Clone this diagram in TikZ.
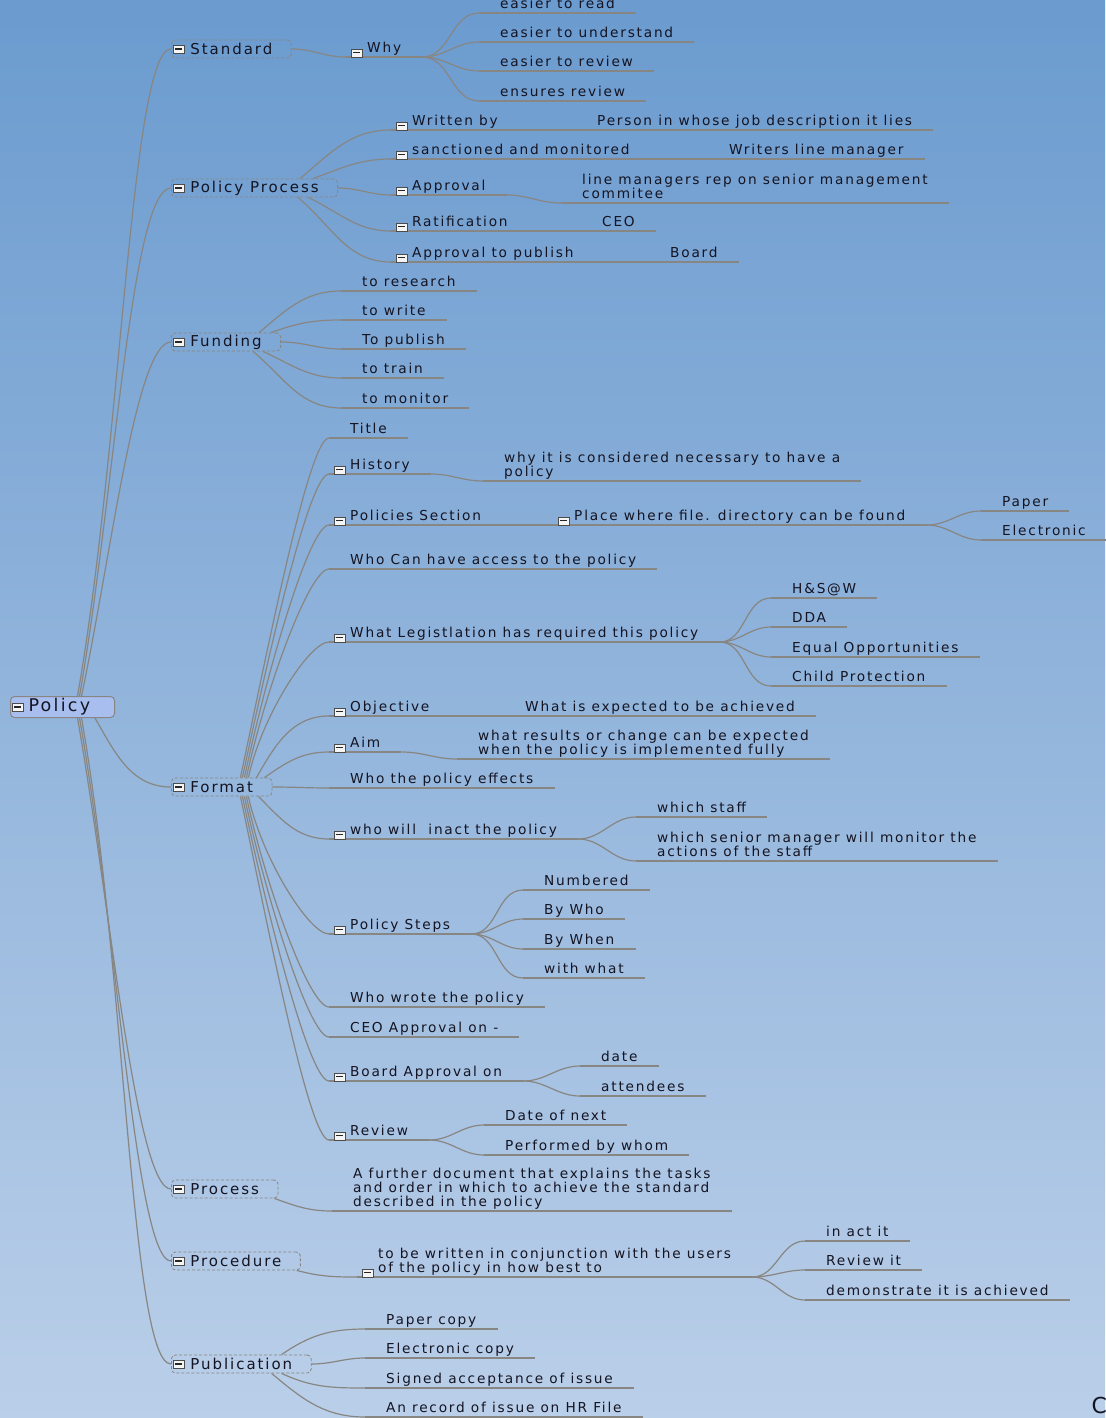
\documentclass[tikz,border=0pt]{standalone}
\usepackage{fontspec}
\setmainfont{DejaVu Sans}[LetterSpace=13]
\usetikzlibrary{positioning}

\definecolor{bgtop}{RGB}{107,155,207}
\definecolor{bgbot}{RGB}{186,207,233}
\definecolor{linec}{RGB}{136,134,130}
\definecolor{inkc}{RGB}{20,20,34}
\definecolor{rootfill}{RGB}{168,190,238}

\tikzset{
	branch/.style={draw=linec, line width=1.2pt},
	toggle/.style={draw=black!70, fill=gray!8, minimum width=11pt, minimum height=8pt, inner sep=0pt,
		path picture={\draw[black!85, line width=1.3pt] ([xshift=2pt]path picture bounding box.west) -- ([xshift=-2pt]path picture bounding box.east);}},
	leaf/.style={anchor=south west, inner xsep=21pt, inner ysep=4pt, text depth=0pt, align=left, text=inkc,
		font=\fontsize{13.7}{14}\selectfont,
		append after command={(\tikzlastnode.south west) edge[branch] (\tikzlastnode.south east)}},
	sub/.style={append after command={node[toggle, anchor=south west] at ([xshift=5pt]\tikzlastnode.south west) {}}},
	topic/.style={anchor=west, draw=linec, line width=0.8pt, dash pattern=on 3pt off 2pt, rounded corners=4pt,
		minimum height=18pt, inner ysep=0pt, inner xsep=19pt, text=inkc, font=\fontsize{15}{16}\selectfont,
		append after command={node[toggle, anchor=west] at ([xshift=2pt]\tikzlastnode.west) {}}},
	rootbox/.style={anchor=west, draw=linec, line width=1pt, fill=rootfill, rounded corners=4pt,
		minimum height=21pt, inner ysep=0pt, inner xsep=18pt, text width=68pt, align=left, text=inkc,
		font=\fontsize{17.5}{18}\selectfont,
		append after command={node[toggle, anchor=west] at ([xshift=2pt]\tikzlastnode.west) {}}},
	goup/.style={out=78, in=180, in distance=20pt},
	godown/.style={out=-78, in=180, in distance=20pt},
}

\begin{document}
\begin{tikzpicture}[x=1pt, y=-1pt]
	\useasboundingbox (0,0) rectangle (1105,1418);
	\shade[top color=bgtop, bottom color=bgbot] (0,0) rectangle (1105,1418);

	% root and main topics
	\node[rootbox] (policy) at (10,707) {Policy};
	\node[topic] (std) at (171,49) {Standard};
	\node[topic] (pp) at (171,188) {Policy Process};
	\node[topic] (fund) at (171,342) {Funding};
	\node[topic] (fmt) at (171,787) {Format};
	\node[topic] (prc) at (171,1189) {Process};
	\node[topic] (proc) at (171,1261) {Procedure};
	\node[topic] (pub) at (171,1364) {Publication};

	% Standard
	\node[leaf,sub] (why) at (346,57) {Why};
	\node[leaf] (read) at (479,13) {easier to read};
	\node[leaf] (underst) at (479,42) {easier to understand};
	\node[leaf] (review) at (479,71) {easier to review};
	\node[leaf] (ensures) at (479,101) {ensures review};

	% Policy Process
	\node[leaf,sub] (wrby) at (391,130) {Written by};
	\node[leaf] (person) at (576,130) {Person in whose job description it lies};
	\node[leaf,sub] (sanct) at (391,159) {sanctioned and monitored};
	\node[leaf] (wlm) at (708,159) {Writers line manager};
	\node[leaf,sub] (appr) at (391,195) {Approval};
	\node[leaf] (lmrep) at (561,203) {line managers rep on senior management\\commitee};
	\node[leaf,sub] (ratif) at (391,231) {Ratification};
	\node[leaf] (ceo) at (581,231) {CEO};
	\node[leaf,sub] (apub) at (391,262) {Approval to publish};
	\node[leaf] (board) at (649,262) {Board};

	% Funding
	\node[leaf] (research) at (341,291) {to research};
	\node[leaf] (write) at (341,320) {to write};
	\node[leaf] (publish) at (341,349) {To publish};
	\node[leaf] (train) at (341,378) {to train};
	\node[leaf] (monitor) at (341,408) {to monitor};

	% Format
	\node[leaf] (title) at (329,438) {Title};
	\node[leaf,sub] (hist) at (329,474) {History};
	\node[leaf] (whynec) at (483,481) {why it is considered necessary to have a\\policy};
	\node[leaf,sub] (polsec) at (329,525) {Policies Section};
	\node[leaf,sub] (place) at (553,525) {Place where file. directory can be found};
	\node[leaf] (paper) at (981,511) {Paper};
	\node[leaf] (electr) at (981,540) {Electronic};
	\node[leaf] (access) at (329,569) {Who Can have access to the policy};
	\node[leaf,sub] (legis) at (329,642) {What Legistlation has required this policy};
	\node[leaf] (hsw) at (771,598) {H\&S@W};
	\node[leaf] (dda) at (771,627) {DDA};
	\node[leaf] (equal) at (771,657) {Equal Opportunities};
	\node[leaf] (child) at (771,686) {Child Protection};
	\node[leaf,sub] (obj) at (329,716) {Objective};
	\node[leaf] (expect) at (504,716) {What is expected to be achieved};
	\node[leaf,sub] (aim) at (329,752) {Aim};
	\node[leaf] (result) at (457,759) {what results or change can be expected\\when the policy is implemented fully};
	\node[leaf] (effects) at (329,788) {Who the policy effects};
	\node[leaf,sub] (inact) at (329,839) {who will\ \ inact the policy};
	\node[leaf] (staff) at (636,817) {which staff};
	\node[leaf] (senior) at (636,861) {which senior manager will monitor the\\actions of the staff};
	\node[leaf,sub] (steps) at (329,934) {Policy Steps};
	\node[leaf] (numb) at (523,890) {Numbered};
	\node[leaf] (bywho) at (523,919) {By Who};
	\node[leaf] (bywhen) at (523,949) {By When};
	\node[leaf] (withwhat) at (523,978) {with what};
	\node[leaf] (wrote) at (329,1007) {Who wrote the policy};
	\node[leaf] (ceoappr) at (329,1037) {CEO Approval on -};
	\node[leaf,sub] (brdappr) at (329,1081) {Board Approval on};
	\node[leaf] (date) at (580,1066) {date};
	\node[leaf] (attend) at (580,1096) {attendees};
	\node[leaf,sub] (rev) at (329,1140) {Review};
	\node[leaf] (nextdate) at (484,1125) {Date of next};
	\node[leaf] (perf) at (484,1155) {Performed by whom};

	% Process, Procedure, Publication
	\node[leaf] (further) at (332,1211) {A further document that explains the tasks\\and order in which to achieve the standard\\described in the policy};
	\node[leaf,sub] (conj) at (357,1277) {to be written in conjunction with the users\\of the policy in how best to};
	\node[leaf] (actit) at (805,1241) {in act it};
	\node[leaf] (reviewit) at (805,1270) {Review it};
	\node[leaf] (demo) at (805,1300) {demonstrate it is achieved};
	\node[leaf] (pcopy) at (365,1329) {Paper copy};
	\node[leaf] (ecopy) at (365,1358) {Electronic copy};
	\node[leaf] (signed) at (365,1388) {Signed acceptance of issue};
	\node[leaf] (record) at (365,1417) {An record of issue on HR File};

	\node[anchor=west, text=inkc, font=\fontsize{22}{24}\selectfont] (cut) at (1088,1405) {C};

	% root to topics
	\draw[branch] ([xshift=15pt]policy.north) to[out=80,in=180,in distance=40pt] (std.west);
	\draw[branch] ([xshift=17pt]policy.north) to[out=80,in=180,in distance=40pt] (pp.west);
	\draw[branch] ([xshift=19pt]policy.north) to[out=78,in=180,in distance=35pt] (fund.west);
	\draw[branch] ([xshift=-20pt]policy.south east) to[out=-60,in=180] (fmt.west);
	\draw[branch] ([xshift=15pt]policy.south) to[out=-80,in=180,in distance=35pt] (prc.west);
	\draw[branch] ([xshift=17pt]policy.south) to[out=-80,in=180,in distance=35pt] (proc.west);
	\draw[branch] ([xshift=19pt]policy.south) to[out=-80,in=180,in distance=40pt] (pub.west);

	% Standard
	\draw[branch] (std.east) to[out=0,in=180] (why.south west);
	\draw[branch] (why.south east) to[out=0,in=180] (read.south west);
	\draw[branch] (why.south east) to[out=0,in=180] (underst.south west);
	\draw[branch] (why.south east) to[out=0,in=180] (review.south west);
	\draw[branch] (why.south east) to[out=0,in=180] (ensures.south west);

	% Policy Process
	\draw[branch] ([xshift=-38pt]pp.north east) to[out=40,in=180] (wrby.south west);
	\draw[branch] ([xshift=-25pt]pp.north east) to[out=20,in=180] (sanct.south west);
	\draw[branch] (pp.east) to[out=0,in=180] (appr.south west);
	\draw[branch] ([xshift=-30pt]pp.south east) to[out=-25,in=180] (ratif.south west);
	\draw[branch] ([xshift=-40pt]pp.south east) to[out=-40,in=180] (apub.south west);
	\draw[branch] (wrby.south east) -- (person.south west);
	\draw[branch] (sanct.south east) -- (wlm.south west);
	\draw[branch] (appr.south east) to[out=0,in=180] (lmrep.south west);
	\draw[branch] (ratif.south east) -- (ceo.south west);
	\draw[branch] (apub.south east) -- (board.south west);

	% Funding
	\draw[branch] ([xshift=-22pt]fund.north east) to[out=40,in=180] (research.south west);
	\draw[branch] ([xshift=-10pt]fund.north east) to[out=20,in=180] (write.south west);
	\draw[branch] (fund.east) to[out=0,in=180] (publish.south west);
	\draw[branch] ([xshift=-18pt]fund.south east) to[out=-25,in=180] (train.south west);
	\draw[branch] ([xshift=-28pt]fund.south east) to[out=-40,in=180] (monitor.south west);

	% Format
	\draw[branch] ([xshift=-32pt]fmt.north east) to[goup] (title.south west);
	\draw[branch] ([xshift=-30pt]fmt.north east) to[goup] (hist.south west);
	\draw[branch] ([xshift=-28pt]fmt.north east) to[goup] (polsec.south west);
	\draw[branch] ([xshift=-26pt]fmt.north east) to[goup] (access.south west);
	\draw[branch] ([xshift=-24pt]fmt.north east) to[goup] (legis.south west);
	\draw[branch] ([xshift=-16pt]fmt.north east) to[out=60,in=180] (obj.south west);
	\draw[branch] ([xshift=-8pt]fmt.north east) to[out=35,in=180] (aim.south west);
	\draw[branch] (fmt.east) to[out=0,in=180] (effects.south west);
	\draw[branch] ([xshift=-14pt]fmt.south east) to[out=-45,in=180] (inact.south west);
	\draw[branch] ([xshift=-24pt]fmt.south east) to[godown] (steps.south west);
	\draw[branch] ([xshift=-26pt]fmt.south east) to[godown] (wrote.south west);
	\draw[branch] ([xshift=-28pt]fmt.south east) to[godown] (ceoappr.south west);
	\draw[branch] ([xshift=-30pt]fmt.south east) to[godown] (brdappr.south west);
	\draw[branch] ([xshift=-32pt]fmt.south east) to[godown] (rev.south west);
	\draw[branch] (hist.south east) to[out=0,in=180] (whynec.south west);
	\draw[branch] (polsec.south east) -- (place.south west);
	\draw[branch] (place.south east) to[out=0,in=180] (paper.south west);
	\draw[branch] (place.south east) to[out=0,in=180] (electr.south west);
	\draw[branch] (legis.south east) to[out=0,in=180] (hsw.south west);
	\draw[branch] (legis.south east) to[out=0,in=180] (dda.south west);
	\draw[branch] (legis.south east) to[out=0,in=180] (equal.south west);
	\draw[branch] (legis.south east) to[out=0,in=180] (child.south west);
	\draw[branch] (obj.south east) -- (expect.south west);
	\draw[branch] (aim.south east) to[out=0,in=180] (result.south west);
	\draw[branch] (inact.south east) to[out=0,in=180] (staff.south west);
	\draw[branch] (inact.south east) to[out=0,in=180] (senior.south west);
	\draw[branch] (steps.south east) to[out=0,in=180] (numb.south west);
	\draw[branch] (steps.south east) to[out=0,in=180] (bywho.south west);
	\draw[branch] (steps.south east) to[out=0,in=180] (bywhen.south west);
	\draw[branch] (steps.south east) to[out=0,in=180] (withwhat.south west);
	\draw[branch] (brdappr.south east) to[out=0,in=180] (date.south west);
	\draw[branch] (brdappr.south east) to[out=0,in=180] (attend.south west);
	\draw[branch] (rev.south east) to[out=0,in=180] (nextdate.south west);
	\draw[branch] (rev.south east) to[out=0,in=180] (perf.south west);

	% Process, Procedure, Publication
	\draw[branch] ([xshift=-4pt]prc.south east) to[out=-20,in=180] (further.south west);
	\draw[branch] ([xshift=-4pt]proc.south east) to[out=-15,in=180] (conj.south west);
	\draw[branch] (conj.south east) to[out=0,in=180] (actit.south west);
	\draw[branch] (conj.south east) to[out=0,in=180] (reviewit.south west);
	\draw[branch] (conj.south east) to[out=0,in=180] (demo.south west);
	\draw[branch] ([xshift=-30pt]pub.north east) to[out=35,in=180] (pcopy.south west);
	\draw[branch] (pub.east) to[out=0,in=180] (ecopy.south west);
	\draw[branch] ([xshift=-30pt]pub.south east) to[out=-25,in=180] (signed.south west);
	\draw[branch] ([xshift=-40pt]pub.south east) to[out=-40,in=180] (record.south west);
\end{tikzpicture}
\end{document}
